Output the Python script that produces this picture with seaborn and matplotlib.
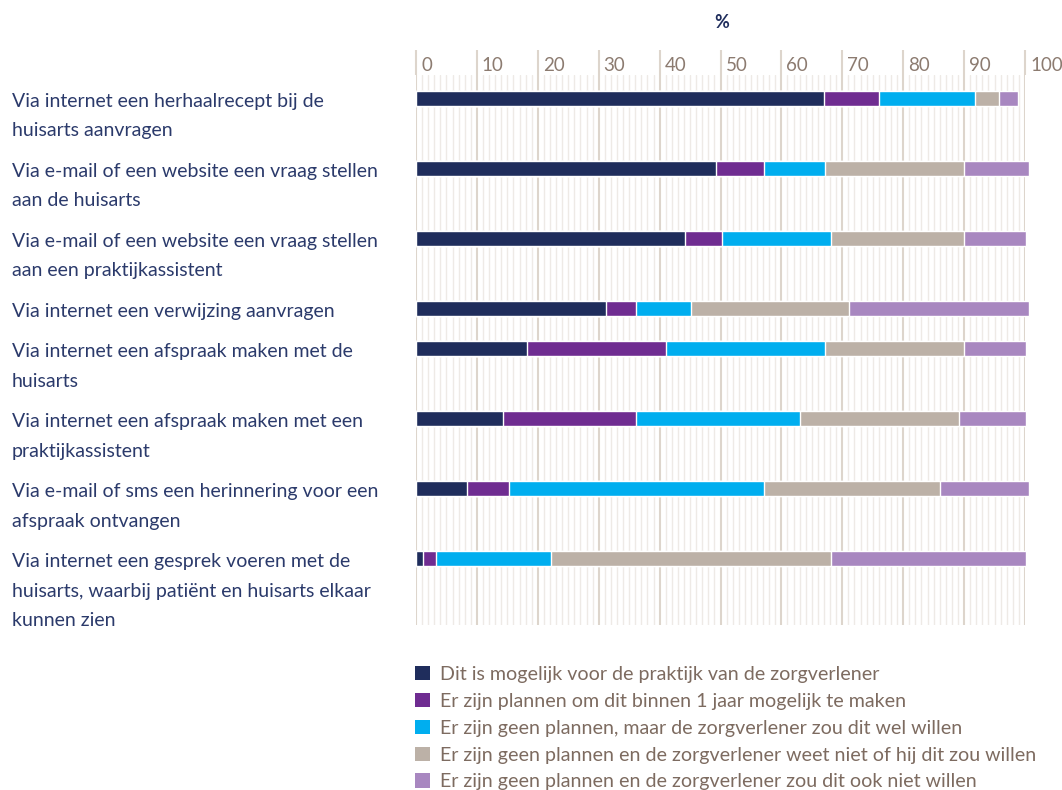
import numpy as np
import pandas as pd
import matplotlib
matplotlib.use("Agg")
import matplotlib.pyplot as plt
from matplotlib.patches import Patch
from matplotlib.transforms import ScaledTranslation, blended_transform_factory
import seaborn as sns

# ---------------- data ----------------
categories = [
    "Via internet een herhaalrecept bij de\nhuisarts aanvragen",
    "Via e-mail of een website een vraag stellen\naan de huisarts",
    "Via e-mail of een website een vraag stellen\naan een praktijkassistent",
    "Via internet een verwijzing aanvragen",
    "Via internet een afspraak maken met de\nhuisarts",
    "Via internet een afspraak maken met een\npraktijkassistent",
    "Via e-mail of sms een herinnering voor een\nafspraak ontvangen",
    "Via internet een gesprek voeren met de\nhuisarts, waarbij patiënt en huisarts elkaar\nkunnen zien",
]
series_names = [
    "Dit is mogelijk voor de praktijk van de zorgverlener",
    "Er zijn plannen om dit binnen 1 jaar mogelijk te maken",
    "Er zijn geen plannen, maar de zorgverlener zou dit wel willen",
    "Er zijn geen plannen en de zorgverlener weet niet of hij dit zou willen",
    "Er zijn geen plannen en de zorgverlener zou dit ook niet willen",
]
mogelijk = [67.0, 49.2, 44.1, 31.2, 18.2, 14.3, 8.3, 1.2]
plannen_1jaar = [9.0, 7.9, 6.1, 5.0, 22.9, 21.9, 7.0, 2.1]
wel_willen = [15.8, 10.1, 17.9, 9.0, 26.1, 26.9, 41.8, 18.9]
weet_niet = [4.0, 22.8, 21.9, 25.9, 22.8, 26.0, 29.0, 46.0]
niet_willen = [3.0, 10.7, 10.1, 29.6, 10.1, 11.0, 14.6, 32.0]
series_values = [mogelijk, plannen_1jaar, wel_willen, weet_niet, niet_willen]
colors = ["#1F2D5C", "#6F2C91", "#00AEEF", "#BCB1A7", "#A887C0"]
xticks = list(range(0, 101, 10))

# ---------------- layout of rows (height follows label line count) ----------------
LINE = 29.5  # label line height in pixels (1 data unit = 1 px on the y axis)
n_lines = [c.count("\n") + 1 for c in categories]
row_pos = [0.0]
for n in n_lines[:-1]:
    row_pos.append(row_pos[-1] + 30 * n + 10)

sns.set_theme(style="white")
plt.rcParams["font.family"] = ["Lato", "DejaVu Sans"]

W, H = 1062, 790
fig = plt.figure(figsize=(W / 100, H / 100), dpi=100)
ax = fig.add_axes([416 / W, 1 - 625 / H, (1025 - 416) / W, (625 - 75) / H])

vals = np.array(series_values)
cum = np.cumsum(vals, axis=0)
for k in range(len(series_values) - 1, -1, -1):
    df = pd.DataFrame({"value": cum[k], "pos": row_pos})
    sns.barplot(data=df, x="value", y="pos", orient="y", native_scale=True,
                color=colors[k], saturation=1, width=15 / 40,
                edgecolor="white", linewidth=1.0, ax=ax, zorder=3)
for p in ax.patches:
    p.set_clip_on(False)

ax.set_xlim(0, 100)
ax.set_ylim(row_pos[-1] + 66, -23)

# grid
ax.set_xticks(xticks)
ax.set_xticks(np.arange(0, 101, 1), minor=True)
ax.grid(False)
ax.grid(axis="x", which="minor", color="#EEEAE6", linewidth=1.0, zorder=0)
ax.grid(axis="x", which="major", color="#DDD5CC", linewidth=1.5, zorder=1)
for s in ax.spines.values():
    s.set_visible(False)

ax.set_yticks([])
ax.set_ylabel("")
ax.set_xlabel("")
ax.xaxis.set_ticks_position("top")
ax.tick_params(axis="x", which="major", top=True, bottom=False, labeltop=True,
               labelbottom=False, length=18, width=1.5, color="#DDD5CC",
               pad=-17, labelsize=13.5, labelcolor="#8C7B70")
ax.tick_params(axis="x", which="minor", top=False, bottom=False)
ax.set_xticklabels([str(t) for t in xticks])
off = ScaledTranslation(5 / 100, 0, fig.dpi_scale_trans)
for lab in ax.get_xticklabels():
    lab.set_ha("left")
    lab.set_transform(lab.get_transform() + off)

fig.text(722 / W, 1 - 22 / H, "%", ha="center", va="center", fontsize=13,
         fontweight="bold", color="#1F2D5C")

# category labels (one text per line so the first line is centred on the bar)
tr = blended_transform_factory(fig.transFigure, ax.transData)
for lab, p in zip(categories, row_pos):
    for i, line in enumerate(lab.split("\n")):
        ax.text(12 / W, p + 1.5 + i * LINE, line, transform=tr, ha="left",
                va="center_baseline", fontsize=14, color="#2B3A6B")

handles = [Patch(facecolor=c, edgecolor="none") for c in colors]
fig.legend(handles, series_names, loc="upper left",
           bbox_to_anchor=(415 / W, 1 - 666 / H), frameon=False,
           handlelength=0.76, handleheight=0.76, handletextpad=0.5,
           labelspacing=0.5, fontsize=14.1, labelcolor="#7D6B60",
           borderaxespad=0, borderpad=0)

fig.savefig("out.png", dpi=100)
